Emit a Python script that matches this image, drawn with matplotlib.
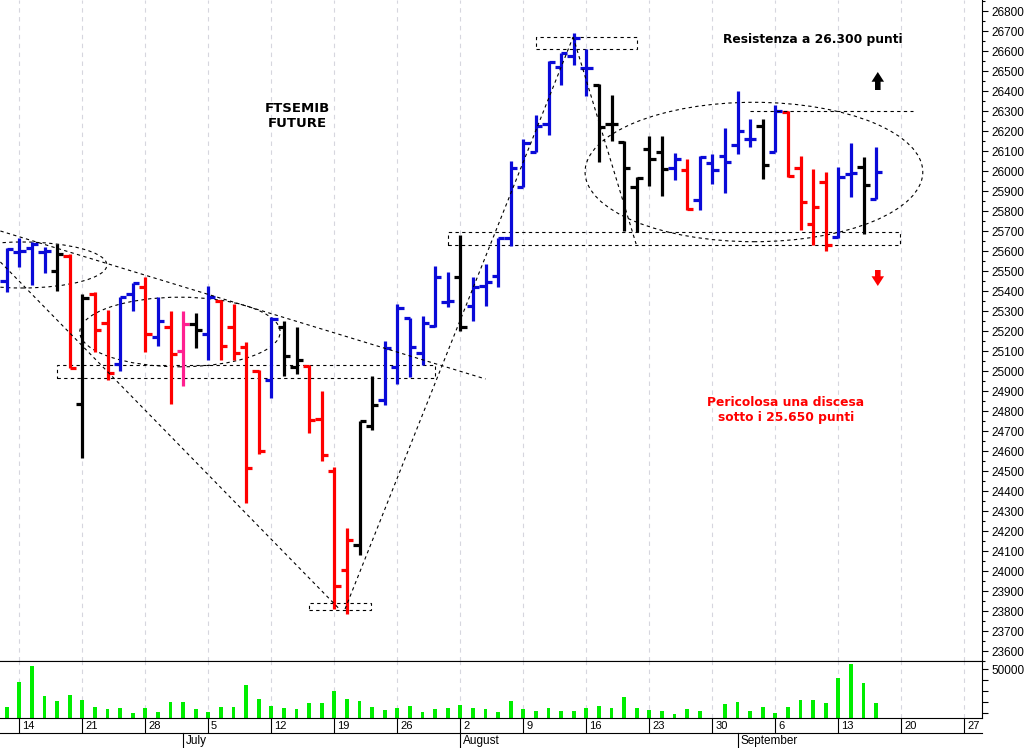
import numpy as np
import matplotlib.pyplot as plt
from matplotlib.lines import Line2D
from matplotlib.patches import Ellipse, Rectangle
import matplotlib.transforms as mtransforms

plt.rcParams['font.family'] = ['Liberation Sans', 'DejaVu Sans']

# trading-day index, 0 = Monday 14 June
days = np.arange(-1, 69)
opens = [25450, 25595, 25615, 25595, 25500, 25575, 24835, 25385, 25240, 25035,
         25385, 25420, 25170, 25220, 25100, 25235, 25185, 25350, 25220, 25120,
         25000, 24955, 25220, 25020, 25025, 24760, 24500, 24005, 24130, 24725,
         24855, 25020, 25265, 25090, 25225, 25345, 25470, 25325, 25425, 25475,
         25665, 25920, 26095, 26235, 26520, 26575, 26515, 26430, 26235, 26145,
         25920, 26110, 26095, 26015, 26005, 25855, 26040, 26075, 26130, 26160,
         26225, 26095, 26295, 26015, 25735, 25945, 25670, 25985, 26020, 25860]
highs = [25615, 25665, 25645, 25620, 25635, 25585, 25385, 25395, 25305, 25370,
         25440, 25470, 25370, 25300, 25300, 25290, 25425, 25355, 25335, 25145,
         25005, 25270, 25250, 25220, 25030, 24900, 24520, 24215, 24750, 24975,
         25150, 25335, 25265, 25275, 25525, 25495, 25680, 25470, 25535, 25665,
         26050, 26160, 26280, 26550, 26590, 26690, 26610, 26435, 26380, 26150,
         25970, 26175, 26175, 26090, 26060, 26075, 26085, 26215, 26400, 26260,
         26260, 26330, 26300, 26075, 26010, 25995, 26020, 26140, 26070, 26120]
lows = [25395, 25520, 25430, 25490, 25400, 25015, 24565, 25095, 24955, 25000,
        25300, 25095, 25125, 24835, 24925, 25115, 25055, 25055, 25055, 24340,
        24585, 24865, 24975, 24985, 24690, 24550, 23810, 23785, 24080, 24705,
        24830, 24935, 24970, 25030, 25220, 25320, 25200, 25250, 25325, 25420,
        25625, 25920, 26095, 26180, 26430, 26530, 26375, 26045, 26150, 25700,
        25695, 25925, 25875, 25955, 25805, 25805, 25935, 25890, 26085, 26120,
        25960, 26095, 25970, 25705, 25630, 25600, 25665, 25870, 25685, 25860]
closes = [25610, 25600, 25635, 25600, 25585, 25015, 25365, 25205, 24990, 25370,
          25440, 25185, 25250, 25085, 25235, 25205, 25370, 25125, 25090, 24515,
          24600, 25260, 25075, 25055, 24755, 24580, 23925, 24155, 24750, 24830,
          25115, 25315, 25120, 25240, 25470, 25350, 25220, 25420, 25445, 25665,
          26015, 26140, 26225, 26545, 26590, 26665, 26515, 26220, 26235, 26015,
          25965, 26060, 26010, 26060, 25810, 26070, 26005, 26045, 26200, 26160,
          26030, 26300, 25975, 25845, 25820, 25630, 25970, 25990, 25930, 25995]
bar_colors = list("bbbbkrkrrbbrbrmkbrrrrbkkrrrrkkbbbbbbkbbbbbbbbbbkkkkkkbrbbbbbkbrrrrbbkb")
volume = [16000, 38700, 53000, 25700, 21200, 26600, 22100, 15400, 13600, 14500,
          10000, 14500, 11500, 20000, 20000, 13600, 11500, 16000, 16000, 35700,
          23000, 16900, 15100, 13600, 19100, 19100, 30300, 23000, 21200, 16000,
          13000, 15100, 16600, 11500, 14000, 14500, 17500, 15100, 13600, 11500,
          21500, 13600, 12400, 15100, 12400, 12400, 15100, 16900, 15100, 24500,
          15100, 13000, 12400, 9100, 13600, 12100, 0, 18200, 20500, 12100,
          15400, 10000, 15400, 22100, 22100, 19100, 41800, 54800, 37800, 19600]

week_days = np.arange(0, 76, 5)
week_labels = ['14', '21', '28', '5', '12', '19', '26', '2', '9', '16', '23', '30',
               '6', '13', '20', '27']
month_days = [13, 35, 57]
month_labels = ['July', 'August', 'September']

# drawn annotations (day index, price)
trend_upper = ([-1.5, 37.0], [25700, 24960])
v_down = ([-1.5, 25.4], [25545, 23810])
v_up = ([25.85, 43.95], [23810, 26670])
peak_down = ([43.95, 48.95], [26670, 25635])
resist_line = ([58.0, 70.9], [26300, 26300])
boxes = [(3.0, 33.0, 24965, 25030), (23.0, 27.9, 23805, 23840),
         (41.0, 49.0, 26610, 26670), (34.0, 69.9, 25630, 25695)]
ellipses = [(0.2, 25530, 13.5, 230), (12.75, 25195, 15.9, 348), (58.3, 25995, 26.8, 697)]

cmap = {'b': '#0a0ad8', 'r': '#ff0000', 'k': '#000000', 'm': '#ff2090'}
cols = [cmap[c] for c in bar_colors]

W, H = 1030, 748
fig = plt.figure(figsize=(W / 100, H / 100), dpi=100)
ax1 = fig.add_axes([0, 1 - 661 / H, 982 / W, 661 / H])
ax2 = fig.add_axes([0, 1 - 718 / H, 982 / W, 57 / H], sharex=ax1)

ax1.set_xlim(-1.532, 76.4)
ax1.set_ylim(23565, 26855)
ax2.set_ylim(5700, 57500)

grid_kw = dict(color='#d6d6de', ls=(0, (4, 4)), lw=0.8)
for ax in (ax1, ax2):
    ax.set_xticks(week_days)
    ax.grid(axis='x', **grid_kw)
    ax.spines['left'].set_visible(False)
    ax.yaxis.tick_right()
    ax.set_axisbelow(True)
ax1.spines['top'].set_visible(False)

# OHLC bars
dd = np.array(days, dtype=float)
ax1.vlines(dd, lows, highs, colors=cols, lw=2.3)
ax1.hlines(opens, dd - 0.5, dd, colors=cols, lw=2.3)
ax1.hlines(closes, dd, dd + 0.5, colors=cols, lw=2.3)

# annotations
dash = dict(color='k', lw=0.8, ls=(0, (3, 3)))
for xs, ys in (trend_upper, v_down, v_up, peak_down, resist_line):
    ax1.plot(xs, ys, **dash)
for x0, x1, y0, y1 in boxes:
    ax1.add_patch(Rectangle((x0, y0), x1 - x0, y1 - y0, fill=False, ec='k', lw=0.8, ls=(0, (3, 3))))
for cx, cy, w, h in ellipses:
    ax1.add_patch(Ellipse((cx, cy), w, h, fill=False, ec='k', lw=0.8, ls=(0, (3, 3))))

ax1.annotate('', xy=(68.13, 26495), xytext=(68.13, 26405),
             arrowprops=dict(arrowstyle='simple,head_length=0.7,head_width=0.9,tail_width=0.4',
                             fc='k', ec='k', lw=0, shrinkA=0, shrinkB=0, mutation_scale=10))
ax1.annotate('', xy=(68.13, 25425), xytext=(68.13, 25505),
             arrowprops=dict(arrowstyle='simple,head_length=0.7,head_width=0.9,tail_width=0.4',
                             fc='#ff0000', ec='#ff0000', lw=0, shrinkA=0, shrinkB=0, mutation_scale=10))

fig.text(297 / W, 1 - 116 / H, 'FTSEMIB\nFUTURE', ha='center', va='center', fontsize=9.5,
         fontweight='bold', family='DejaVu Sans', linespacing=1.25)
fig.text(813 / W, 1 - 40 / H, 'Resistenza a 26.300 punti', ha='center', va='center',
         fontsize=8.8, fontweight='bold', family='DejaVu Sans')
fig.text(786 / W, 1 - 410 / H, 'Pericolosa una discesa\nsotto i 25.650 punti', ha='center',
         va='center', fontsize=8.8, fontweight='bold', family='DejaVu Sans', color='#ff0000',
         linespacing=1.3)

# price axis
ax1.set_yticks(np.arange(23600, 26801, 100))
ax1.set_yticks(np.arange(23550, 26851, 50), minor=True)
ax1.tick_params(axis='y', which='major', length=4.5, width=0.8, pad=2, labelsize=8.5)
ax1.tick_params(axis='y', which='minor', length=2.5, width=0.8)
ax1.tick_params(axis='x', length=0, labelbottom=False)

# volume
ax2.bar(dd, volume, width=0.3, color='#00ee00')
ax2.set_yticks(np.arange(10000, 50001, 10000))
ax2.set_yticklabels(['', '', '', '', '50000'])
ax2.tick_params(axis='y', length=4.5, width=0.8, pad=2, labelsize=8.5)
ax2.tick_params(axis='x', direction='out', length=10.8, width=0.8, labelbottom=False)

for d, lab in zip(week_days, week_labels):
    ax2.annotate(lab, xy=(d, 0), xycoords=('data', 'axes fraction'), xytext=(2, -5.8),
                 textcoords='offset points', ha='left', va='center', fontsize=8, annotation_clip=False)

blend = mtransforms.blended_transform_factory(ax2.transData, fig.transFigure)
fig.add_artist(Line2D([0, 982 / W], [1 - 733 / H] * 2, color='k', lw=0.8))
for d, lab in zip(month_days, month_labels):
    fig.add_artist(Line2D([d, d], [1 - 733 / H, 0], color='k', lw=0.8, transform=blend))
    ax2.annotate(lab, xy=(d, 0), xycoords=('data', 'axes fraction'), xytext=(2, -16.6),
                 textcoords='offset points', ha='left', va='center', fontsize=8.5, annotation_clip=False)

fig.savefig('out.png', dpi=100)
